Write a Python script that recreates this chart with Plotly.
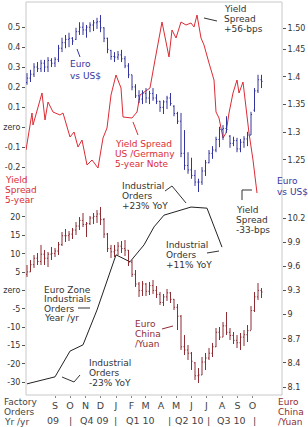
import plotly.graph_objects as go
import pandas as pd

FONT = "DejaVu Sans"
BLUE = "#34349e"
MAROON = "#8e2c34"
RED = "#dc2c36"
DARK = "#333333"

# ---------------- data ----------------
bar_dates = pd.date_range("2009-07-07", periods=68, freq="7D")

usd_open = [1.390,1.398,1.405,1.418,1.415,1.425,1.418,1.430,1.425,1.432,
            1.452,1.462,1.468,1.470,1.468,1.482,1.490,1.485,1.490,1.494,
            1.498,1.500,1.489,1.470,1.448,1.437,1.436,1.440,1.433,1.420,
            1.404,1.382,1.366,1.360,1.370,1.362,1.370,1.362,1.356,1.345,
            1.355,1.362,1.347,1.334,1.320,1.262,1.240,1.232,1.222,1.210,
            1.210,1.230,1.245,1.262,1.268,1.287,1.305,1.307,1.293,1.280,
            1.285,1.270,1.282,1.288,1.295,1.340,1.375,1.395]
usd_high = [1.407,1.413,1.425,1.427,1.431,1.431,1.436,1.434,1.436,1.458,
            1.471,1.476,1.480,1.472,1.489,1.499,1.499,1.494,1.499,1.503,
            1.507,1.512,1.490,1.471,1.449,1.445,1.447,1.449,1.438,1.425,
            1.404,1.387,1.376,1.376,1.380,1.375,1.380,1.369,1.357,1.358,
            1.366,1.371,1.349,1.337,1.335,1.304,1.264,1.254,1.232,1.216,
            1.237,1.250,1.268,1.275,1.292,1.310,1.313,1.329,1.295,1.292,
            1.290,1.288,1.293,1.301,1.337,1.380,1.404,1.404]
usd_low = [1.386,1.391,1.400,1.409,1.409,1.409,1.409,1.418,1.418,1.427,
           1.445,1.452,1.454,1.458,1.467,1.476,1.476,1.471,1.481,1.483,
           1.487,1.481,1.463,1.443,1.431,1.427,1.431,1.427,1.416,1.398,
           1.376,1.362,1.353,1.351,1.353,1.351,1.357,1.351,1.337,1.333,
           1.342,1.348,1.329,1.315,1.255,1.232,1.225,1.216,1.203,1.192,
           1.205,1.221,1.244,1.252,1.264,1.273,1.286,1.299,1.272,1.275,
           1.264,1.264,1.272,1.275,1.295,1.337,1.371,1.380]
usd_close = [1.398,1.405,1.418,1.415,1.425,1.418,1.430,1.425,1.432,1.452,
             1.462,1.468,1.470,1.465,1.482,1.490,1.485,1.490,1.494,1.498,
             1.500,1.489,1.470,1.450,1.437,1.436,1.440,1.433,1.420,1.404,
             1.382,1.366,1.360,1.370,1.362,1.370,1.362,1.356,1.345,1.355,
             1.362,1.352,1.334,1.320,1.262,1.240,1.232,1.222,1.210,1.210,
             1.230,1.245,1.262,1.268,1.287,1.305,1.307,1.305,1.280,1.285,
             1.270,1.282,1.288,1.295,1.332,1.375,1.395,1.392]

cny_open = [9.50,9.53,9.62,9.70,9.66,9.75,9.70,9.75,9.76,9.79,
            9.87,9.98,9.98,10.00,10.05,10.10,10.17,10.12,10.13,10.20,
            10.22,10.25,10.18,10.00,9.82,9.78,9.80,9.85,9.82,9.80,
            9.65,9.50,9.38,9.30,9.38,9.29,9.36,9.30,9.25,9.15,
            9.22,9.27,9.19,9.09,8.98,8.60,8.56,8.52,8.40,8.24,
            8.25,8.41,8.46,8.52,8.60,8.78,8.72,8.86,8.78,8.74,
            8.68,8.65,8.72,8.75,8.80,9.05,9.22,9.30]
cny_high = [9.616,9.678,9.740,9.765,9.865,9.802,9.778,9.840,9.827,9.902,
            10.026,10.063,10.038,10.076,10.150,10.212,10.262,10.150,10.225,10.262,
            10.299,10.337,10.200,10.014,9.865,9.865,9.902,9.914,9.927,9.802,
            9.678,9.554,9.405,9.417,9.392,9.405,9.430,9.355,9.281,9.256,
            9.318,9.281,9.194,9.131,8.995,8.746,8.622,8.535,8.411,8.336,
            8.473,8.523,8.585,8.647,8.833,8.846,8.908,9.032,8.833,8.784,
            8.746,8.771,8.808,8.870,9.106,9.281,9.392,9.330]
cny_low = [9.467,9.529,9.579,9.616,9.616,9.616,9.591,9.678,9.715,9.740,
           9.852,9.902,9.914,9.939,9.989,10.051,10.088,9.964,10.113,10.125,
           10.138,10.113,9.951,9.778,9.703,9.715,9.740,9.765,9.728,9.604,
           9.467,9.343,9.218,9.231,9.231,9.243,9.256,9.206,9.119,9.106,
           9.169,9.144,9.057,8.808,8.560,8.498,8.436,8.311,8.187,8.150,
           8.249,8.311,8.436,8.473,8.597,8.684,8.721,8.746,8.684,8.634,
           8.585,8.560,8.610,8.659,8.808,9.032,9.181,9.206]
cny_close = [9.53,9.62,9.70,9.66,9.75,9.70,9.75,9.76,9.79,9.87,
             9.98,9.98,10.00,10.05,10.10,10.17,10.12,10.13,10.20,10.22,
             10.25,10.18,10.00,9.82,9.78,9.80,9.85,9.82,9.80,9.65,
             9.50,9.38,9.30,9.38,9.29,9.36,9.30,9.25,9.15,9.22,
             9.27,9.19,9.09,8.98,8.60,8.56,8.52,8.42,8.24,8.25,
             8.41,8.46,8.52,8.60,8.78,8.72,8.86,8.78,8.74,8.68,
             8.65,8.72,8.75,8.80,9.05,9.22,9.30,9.28]

spread_dates = ["2009-07-05","2009-07-17","2009-07-19","2009-08-06","2009-08-12","2009-08-18",
                "2009-08-28","2009-09-11","2009-09-17","2009-10-01","2009-10-09","2009-10-17",
                "2009-10-25","2009-11-04","2009-11-14","2009-11-26","2009-12-06","2009-12-14",
                "2009-12-22","2010-01-01","2010-01-11","2010-01-15","2010-02-02","2010-02-12",
                "2010-02-18","2010-03-10","2010-03-20","2010-04-03","2010-04-17","2010-04-23",
                "2010-05-01","2010-05-11","2010-05-21","2010-05-31","2010-06-06","2010-06-12",
                "2010-06-20","2010-06-26","2010-07-06","2010-07-16","2010-07-20","2010-07-26",
                "2010-08-03","2010-08-09","2010-08-15","2010-08-23","2010-08-31","2010-09-04",
                "2010-09-12","2010-09-18","2010-09-24","2010-10-02","2010-10-10"]
spread_vals = [-0.115,0.07,0.01,0.17,0.035,0.125,0.075,0.06,0.07,-0.05,-0.025,-0.1,
               -0.065,-0.19,-0.165,-0.205,-0.055,-0.005,0.16,0.26,0.195,0.05,0.045,0.075,
               0.16,0.195,0.335,0.525,0.35,0.485,0.445,0.525,0.51,0.52,0.5,0.56,
               0.445,0.41,0.32,0.235,0.075,0.045,-0.055,-0.03,0.07,0.17,0.235,0.17,
               0.225,0.1,-0.03,-0.165,-0.33]

io_dates = ["2009-07-07","2009-09-01","2009-10-01","2009-10-27","2009-11-24","2010-01-01",
            "2010-01-29","2010-02-26","2010-03-18","2010-04-07","2010-05-31","2010-07-02","2010-08-01"]
io_vals = [-25.4,-23.5,-16.5,-14.8,-5.3,9.7,7.8,12.4,17.3,20.5,22.7,22.4,11.8]

month_ticks = ["2009-09-01","2009-10-01","2009-11-01","2009-12-01","2010-01-01","2010-02-01",
               "2010-03-01","2010-04-01","2010-05-01","2010-06-01","2010-07-01","2010-08-01",
               "2010-09-01","2010-10-01"]
month_labels = ["S","O","N","D","J","F","M","A","M","J","J","A","S","O"]

spread_ticks = [0.5,0.4,0.3,0.2,0.1,0,-0.1,-0.2]
spread_text = ["0.5","0.4","0.3","0.2","0.1","zero","-0.1","-0.2"]
io_ticks = [20,15,10,5,0,-5,-10,-15,-20,-25]
io_text = ["20","15","10","5","zero","-5","-10","-15","-20","-30"]
usd_ticks = [1.488,1.45,1.4,1.35,1.3,1.25]
usd_text = ["1.50","1.45","1.4","1.35","1.3","1.25"]
cny_ticks = [10.2,9.9,9.6,9.3,9.0,8.7,8.4,8.1]
cny_text = ["10.2","9.9","9.6","9.3","9","8.7","8.4","8.1"]

# ---------------- layout helpers ----------------
W, H = 308, 427
ML, MR, MT, MB = 26, 26, 2, 32
PW, PH = W - ML - MR, H - MT - MB


def px(x):
    return (x - ML) / PW


def py(y):
    return (H - MB - y) / PH


annotations = []
shapes = []


def label(lines, x, y0, color, dy=10.0, size=9, anchor="left"):
    for k, t in enumerate(lines):
        annotations.append(dict(text=t, x=px(x), y=py(y0 + k * dy), xref="paper", yref="paper",
                                xanchor=anchor, yanchor="middle", showarrow=False,
                                font=dict(family=FONT, size=size, color=color)))


def pointer(points, color):
    path = "M " + " L ".join(f"{px(a):.5f},{py(b):.5f}" for a, b in points)
    shapes.append(dict(type="path", path=path, xref="paper", yref="paper",
                       line=dict(color=color, width=1)))


fig = go.Figure()
fig.add_trace(go.Ohlc(x=bar_dates, open=usd_open, high=usd_high, low=usd_low, close=usd_close,
                      yaxis="y3", tickwidth=0.3, hoverinfo="skip",
                      increasing=dict(line=dict(color=BLUE, width=1)),
                      decreasing=dict(line=dict(color=BLUE, width=1))))
fig.add_trace(go.Ohlc(x=bar_dates, open=cny_open, high=cny_high, low=cny_low, close=cny_close,
                      yaxis="y4", tickwidth=0.3, hoverinfo="skip",
                      increasing=dict(line=dict(color=MAROON, width=1)),
                      decreasing=dict(line=dict(color=MAROON, width=1))))
fig.add_trace(go.Scatter(x=spread_dates, y=spread_vals, mode="lines", yaxis="y",
                         line=dict(color=RED, width=1), hoverinfo="skip"))
fig.add_trace(go.Scatter(x=io_dates, y=io_vals, mode="lines", yaxis="y2",
                         line=dict(color="#222222", width=1), hoverinfo="skip"))

# text labels
label(["Yield", "Spread", "+56-bps"], 222, 8.5, DARK)
label(["Euro", "vs US$"], 68, 64.5, BLUE, dy=11)
label(["Yield Spread", "US /Germany", "5-year Note"], 113, 143.5, RED)
label(["Yield", "Spread", "5-year"], 3, 180, RED)
label(["Euro", "vs US$"], 275, 181, BLUE, dy=10.5)
label(["Yield", "Spread", "-33-bps"], 234, 210, DARK)
label(["Industrial", "Orders", "+23% YoY"], 120, 186.5, DARK)
label(["Industrial", "Orders", "+11% YoY"], 164, 245, DARK)
label(["Euro Zone", "Industrials", "Orders", "Year /yr"], 42, 289.5, DARK, dy=9.5)
label(["Industrial", "Orders", "-23% YoY"], 87, 362.5, DARK)
label(["Euro", "China", "/Yuan"], 133, 323.5, MAROON)
label(["Euro", "China", "/Yuan"], 276, 402, MAROON)
label(["Factory", "Orders", "Yr /yr"], 2, 402, "#444444")

for t, x in [("09", 53), ("|", 70), ("Q4 09", 94), ("|", 115), ("Q1 10", 140), ("|", 169),
             ("Q2 10", 189), ("|", 208), ("Q3 10", 231), ("|", 254)]:
    label([t], x, 420, "#444444", size=9.5, anchor="center")

# pointer lines
pointer([(204, 18), (217, 21)], DARK)
pointer([(77, 49), (80, 57)], BLUE)
pointer([(133, 122), (138, 135)], RED)
pointer([(242, 200), (242, 190), (252, 190)], DARK)
pointer([(165, 191), (172, 186), (186, 203)], DARK)
pointer([(207, 253), (219, 251)], DARK)
pointer([(78, 308), (90, 308)], DARK)
pointer([(62, 377), (74, 382), (80, 375)], DARK)
pointer([(162, 329), (173, 326)], MAROON)

# frame
shapes.append(dict(type="rect", xref="paper", yref="paper", x0=0, x1=1, y0=0, y1=1,
                   line=dict(color="#c8c8c8", width=1), layer="below"))

axis_common = dict(showgrid=False, zeroline=False, showline=False, ticks="outside", ticklen=3,
                   tickcolor="#555555", tickfont=dict(family=FONT, size=8, color=DARK),
                   fixedrange=True)

fig.update_layout(
    width=W, height=H,
    margin=dict(l=ML, r=MR, t=MT, b=MB, pad=0),
    paper_bgcolor="white", plot_bgcolor="white",
    showlegend=False,
    xaxis=dict(type="date", range=["2009-07-05", "2010-11-29"], tickvals=month_ticks,
               ticktext=month_labels, ticks="outside", ticklen=2, tickcolor="#888888",
               tickfont=dict(family=FONT, size=9.5, color="#444444"), showgrid=False,
               zeroline=False, showline=False, rangeslider=dict(visible=False), fixedrange=True),
    yaxis=dict(range=[-1.34, 0.625], tickvals=spread_ticks, ticktext=spread_text, side="left",
               **axis_common),
    yaxis2=dict(range=[-28.44, 78.5], tickvals=io_ticks, ticktext=io_text, side="left",
                overlaying="y", **axis_common),
    yaxis3=dict(range=[0.825, 1.5356], tickvals=usd_ticks, ticktext=usd_text, side="right",
                overlaying="y", **axis_common),
    yaxis4=dict(range=[8.0007, 12.884], tickvals=cny_ticks, ticktext=cny_text, side="right",
                overlaying="y", **axis_common),
    annotations=annotations,
    shapes=shapes,
)

fig.write_html("out.html")
